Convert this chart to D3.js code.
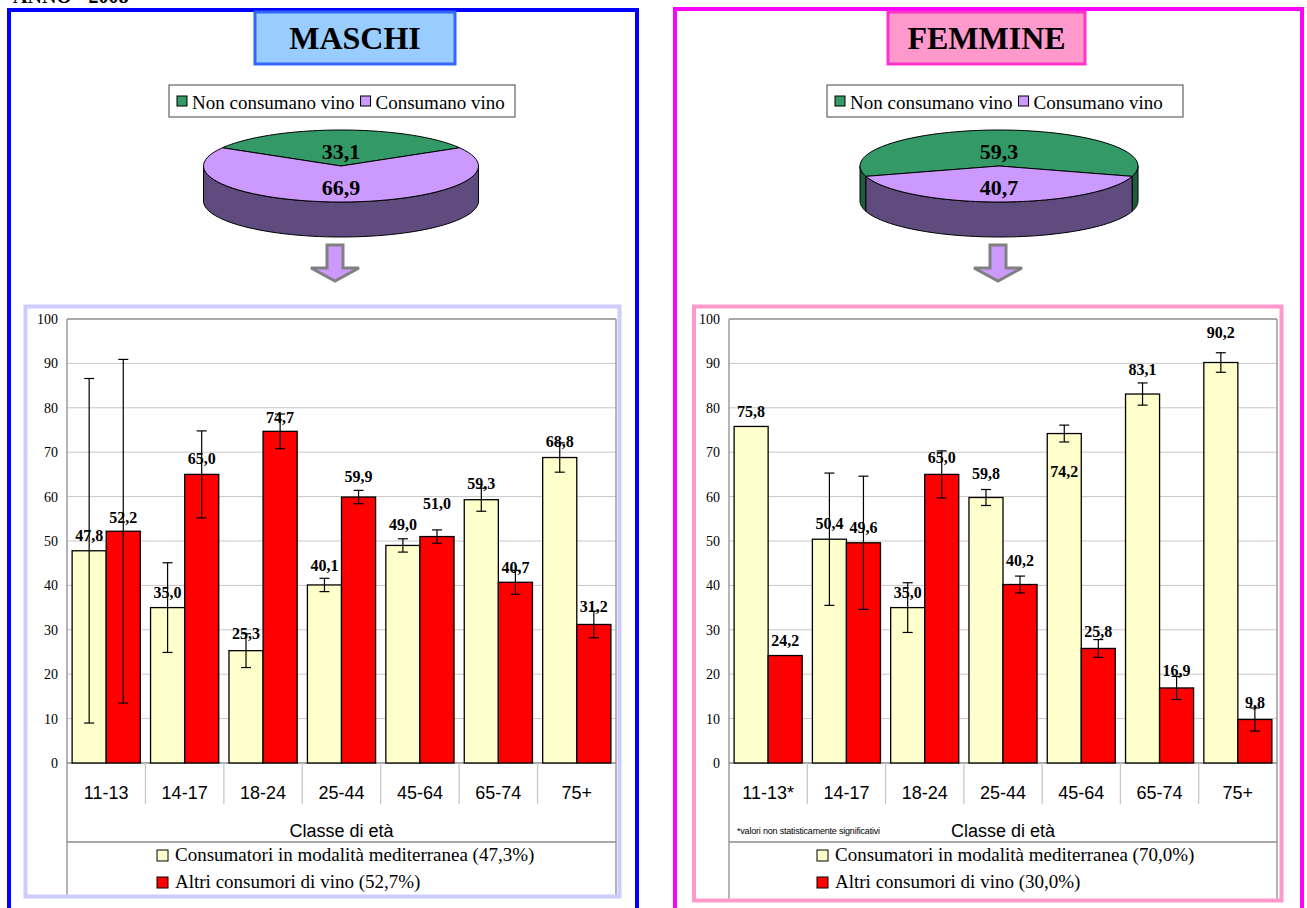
<!DOCTYPE html>
<html><head><meta charset="utf-8">
<script src="https://cdn.jsdelivr.net/npm/d3@7"></script>
<style>body{margin:0;background:#fff;} svg{display:block;}</style>
</head><body>
<svg id="c" width="1307" height="908"></svg>
<script>
// ---------- DATA ----------
const headerText = "ANNO - 2008";
const pieLabels = ["Non consumano vino", "Consumano vino"];
const pieM = [33.1, 66.9];
const pieF = [59.3, 40.7];

const categoriesM = ["11-13", "14-17", "18-24", "25-44", "45-64", "65-74", "75+"];
const categoriesF = ["11-13*", "14-17", "18-24", "25-44", "45-64", "65-74", "75+"];

const medM   = [47.8, 35.0, 25.3, 40.1, 49.0, 59.3, 68.8];
const altriM = [52.2, 65.0, 74.7, 59.9, 51.0, 40.7, 31.2];
const medErrM   = [38.8, 10.1, 3.8, 1.5, 1.5, 2.6, 3.3];
const altriErrM = [38.7, 9.8, 3.9, 1.5, 1.5, 2.7, 3.0];

const medF   = [75.8, 50.4, 35.0, 59.8, 74.2, 83.1, 90.2];
const altriF = [24.2, 49.6, 65.0, 40.2, 25.8, 16.9, 9.8];
const medErrF   = [null, 14.9, 5.6, 1.8, 1.9, 2.5, 2.2];
const altriErrF = [null, 15.0, 5.3, 1.9, 2.0, 2.6, 2.6];

const yTicks = [0, 10, 20, 30, 40, 50, 60, 70, 80, 90, 100];
const legendM = ["Consumatori in modalità mediterranea (47,3%)", "Altri consumori di vino (52,7%)"];
const legendF = ["Consumatori in modalità mediterranea (70,0%)", "Altri consumori di vino (30,0%)"];
const xTitle = "Classe di età";
const footnoteF = "*valori non statisticamente significativi";

// ---------- LAYOUT (label lifts above bar top, px) ----------
const liftMedM   = [15, 15, 17, 20, 21, 16, 16];
const liftAltriM = [14, 16, 14, 21, 33, 15, 18];
const liftMedF   = [15, 16, 15, 24, -38, 25, 30];
const liftAltriF = [15, 15, 17, 24, 17, 18, 17];

const SERIF = "'Liberation Serif','Times New Roman',serif";
const SANS = "'Liberation Sans',Arial,sans-serif";
const C_GREEN = "#339966", C_GREEN_SIDE = "#1E5C3B";
const C_PURPLE = "#CC99FF", C_PURPLE_SIDE = "#5F4B7E";
const C_YELLOW = "#FFFFCC", C_RED = "#FF0000";

const svg = d3.select("#c");
svg.append("rect").attr("width", 1307).attr("height", 908).attr("fill", "#fff");

svg.append("text").attr("x", 13).attr("y", 3)
  .attr("font-family", SERIF).attr("font-weight", "bold").attr("font-size", 20)
  .text(headerText);

function drawPanel(p) {
  const g = svg.append("g");
  g.append("rect").attr("x", p.frame[0]).attr("y", p.frame[1]).attr("width", p.frame[2]).attr("height", 1000)
    .attr("fill", "none").attr("stroke", p.frameColor).attr("stroke-width", 4);

  g.append("rect").attr("x", p.title[0]).attr("y", p.title[1]).attr("width", p.title[2]).attr("height", p.title[3])
    .attr("fill", p.titleFill).attr("stroke", p.titleStroke).attr("stroke-width", 3);
  g.append("text").attr("x", p.title[0] + p.title[2] / 2).attr("y", p.title[1] + p.title[3] / 2 + 11)
    .attr("text-anchor", "middle").attr("font-family", SERIF).attr("font-weight", "bold").attr("font-size", 32)
    .text(p.titleText);

  const lb = p.pieLegend;
  g.append("rect").attr("x", lb[0]).attr("y", lb[1]).attr("width", lb[2]).attr("height", lb[3])
    .attr("fill", "#fff").attr("stroke", "#444").attr("stroke-width", 1);
  let lx = lb[0] + 8;
  const lcols = [C_GREEN, C_PURPLE];
  pieLabels.forEach((t, i) => {
    g.append("rect").attr("x", lx).attr("y", lb[1] + 11).attr("width", 10).attr("height", 10)
      .attr("fill", lcols[i]).attr("stroke", "#000").attr("stroke-width", 1);
    const tx = g.append("text").attr("x", lx + 15).attr("y", lb[1] + 24)
      .attr("font-family", SERIF).attr("font-size", 19).text(t);
    lx += 15 + tx.node().getComputedTextLength() + 6;
  });

  const pc = p.pie;
  const frac0 = p.pieVals[0] / 100;
  const arcs = d3.pie().sort(null).startAngle(-Math.PI * frac0).endAngle(2 * Math.PI - Math.PI * frac0)(p.pieVals);
  const pt = (a, dy) => [pc.cx + pc.rx * Math.sin(a), pc.cy - pc.ry * Math.cos(a) + (dy || 0)];
  const samp = (a0, a1, dy) => { const n = 60, r = []; for (let k = 0; k <= n; k++) r.push(pt(a0 + (a1 - a0) * k / n, dy)); return r; };
  const sideCols = [C_GREEN_SIDE, C_PURPLE_SIDE], topCols = [C_GREEN, C_PURPLE];
  const line = d3.line();
  arcs.forEach((a, i) => {
    [[Math.PI / 2, 3 * Math.PI / 2], [-3 * Math.PI / 2, -Math.PI / 2]].forEach(([lo, hi]) => {
      const s = Math.max(a.startAngle, lo), e = Math.min(a.endAngle, hi);
      if (s < e) {
        const top = samp(s, e, 0), bot = samp(e, s, pc.depth);
        g.append("path").attr("d", line(top.concat(bot)) + "Z")
          .attr("fill", sideCols[i]).attr("stroke", "#000").attr("stroke-width", 1);
      }
    });
  });
  arcs.forEach((a, i) => {
    const pts = [[pc.cx, pc.cy]].concat(samp(a.startAngle, a.endAngle, 0));
    g.append("path").attr("d", line(pts) + "Z").attr("fill", topCols[i]).attr("stroke", "#000").attr("stroke-width", 1);
  });
  arcs.forEach((a, i) => {
    const m = (a.startAngle + a.endAngle) / 2;
    g.append("text").attr("x", pc.cx + pc.rx * 0.5 * Math.sin(m)).attr("y", pc.cy - pc.ry * 0.5 * Math.cos(m) + 3.5)
      .attr("dy", "0.35em").attr("text-anchor", "middle")
      .attr("font-family", SERIF).attr("font-weight", "bold").attr("font-size", 22)
      .text(d3.format(".1f")(a.data).replace(".", ","));
  });

  const ax = p.arrowX;
  const arrow = `M${ax - 8},245 L${ax + 8},245 L${ax + 8},268 L${ax + 24},268 L${ax},281 L${ax - 24},268 L${ax - 8},268 Z`;
  g.append("path").attr("d", arrow).attr("fill", C_PURPLE).attr("stroke", "#808080").attr("stroke-width", 3).attr("stroke-linejoin", "miter");

  const cb = p.chartBox;
  g.append("rect").attr("x", cb[0]).attr("y", cb[1]).attr("width", cb[2]).attr("height", cb[3])
    .attr("fill", "#fff").attr("stroke", p.chartBoxColor).attr("stroke-width", 4);

  const plotL = p.plotL, plotR = p.plotR, plotT = 319, plotB = 763, bottom = cb[1] + cb[3] - 2;
  const y = d3.scaleLinear().domain([0, 100]).range([plotB, plotT]);
  const x = d3.scaleBand().domain(p.cats).range([plotL, plotR]);
  const xs = d3.scaleBand().domain([0, 1]).range([0, x.bandwidth()]).paddingOuter(0.15);

  g.selectAll(null).data(yTicks.filter(t => t > 0 && t < 100)).enter().append("line")
    .attr("x1", plotL).attr("x2", plotR).attr("y1", d => y(d)).attr("y2", d => y(d))
    .attr("stroke", "#C8C8C8").attr("stroke-width", 1);
  const gl = (x1, y1, x2, y2) => g.append("line").attr("x1", x1).attr("y1", y1).attr("x2", x2).attr("y2", y2)
    .attr("stroke", "#8C8C8C").attr("stroke-width", 1.3);
  gl(plotL, plotT, plotR, plotT);
  gl(plotL, plotT, plotL, bottom);
  gl(plotR, plotT, plotR, bottom);
  gl(plotL, plotB, plotR, plotB);
  gl(plotL, 842, plotR, 842);
  p.cats.forEach((c, i) => { if (i > 0) { g.append("line").attr("x1", x(c)).attr("x2", x(c)).attr("y1", plotB).attr("y2", 804)
      .attr("stroke", "#C8C8C8").attr("stroke-width", 1.3); } });

  const yAxis = g.append("g").attr("transform", `translate(${plotL},0)`)
    .call(d3.axisLeft(y).tickValues(yTicks).tickSize(0).tickPadding(9));
  yAxis.select(".domain").remove();
  yAxis.selectAll("text").attr("font-family", SERIF).attr("font-size", 14).attr("fill", "#000");

  p.cats.forEach(c => {
    g.append("text").attr("x", x(c) + x.bandwidth() / 2).attr("y", 799).attr("text-anchor", "middle")
      .attr("font-family", SANS).attr("font-size", 18).text(c);
  });
  g.append("text").attr("x", (plotL + plotR) / 2).attr("y", 837).attr("text-anchor", "middle")
    .attr("font-family", SANS).attr("font-size", 18).text(xTitle);
  if (p.footnote) {
    g.append("text").attr("x", plotL + 8).attr("y", 834).attr("font-family", SANS).attr("font-size", 9)
      .attr("letter-spacing", "-0.2").text(p.footnote);
  }

  const series = [
    { v: p.med, e: p.medErr, lift: p.liftMed, fill: C_YELLOW, k: 0 },
    { v: p.altri, e: p.altriErr, lift: p.liftAltri, fill: C_RED, k: 1 }
  ];
  series.forEach(s => {
    s.v.forEach((v, i) => {
      g.append("rect").attr("x", x(p.cats[i]) + xs(s.k)).attr("y", y(v))
        .attr("width", xs.bandwidth()).attr("height", y(0) - y(v))
        .attr("fill", s.fill).attr("stroke", "#000").attr("stroke-width", 1.3);
    });
  });
  series.forEach(s => {
    s.v.forEach((v, i) => {
      g.append("text").attr("x", x(p.cats[i]) + xs(s.k) + xs.bandwidth() / 2).attr("y", y(v) - s.lift[i])
        .attr("dy", "0.35em").attr("text-anchor", "middle")
        .attr("font-family", SERIF).attr("font-weight", "bold").attr("font-size", 16)
        .text(d3.format(".1f")(v).replace(".", ","));
    });
  });
  series.forEach(s => {
    s.v.forEach((v, i) => {
      const e = s.e[i];
      if (e == null) return;
      const cx = x(p.cats[i]) + xs(s.k) + xs.bandwidth() / 2;
      const ys = [y(v + e), y(v - e)];
      g.append("line").attr("x1", cx).attr("x2", cx).attr("y1", ys[0]).attr("y2", ys[1]).attr("stroke", "#000").attr("stroke-width", 1.2);
      ys.forEach(yy => g.append("line").attr("x1", cx - 5).attr("x2", cx + 5).attr("y1", yy).attr("y2", yy).attr("stroke", "#000").attr("stroke-width", 1.2));
    });
  });

  const legCols = [C_YELLOW, C_RED];
  p.legend.forEach((t, i) => {
    const by = 861 + i * 27;
    g.append("rect").attr("x", p.legendX).attr("y", by - 11).attr("width", 11).attr("height", 11)
      .attr("fill", legCols[i]).attr("stroke", "#000").attr("stroke-width", 1);
    g.append("text").attr("x", p.legendX + 18).attr("y", by).attr("font-family", SERIF).attr("font-size", 19).text(t);
  });
}

drawPanel({
  frame: [9, 10, 628], frameColor: "#0000FF",
  title: [255, 12, 200, 52], titleFill: "#99CCFF", titleStroke: "#3366FF", titleText: "MASCHI",
  pieLegend: [169, 85, 346, 32], pieVals: pieM,
  pie: { cx: 341, cy: 166, rx: 137.5, ry: 36, depth: 35 },
  arrowX: 335,
  chartBox: [25.5, 306.5, 594, 590], chartBoxColor: "#CCCCFF",
  plotL: 67, plotR: 616, cats: categoriesM,
  med: medM, altri: altriM, medErr: medErrM, altriErr: altriErrM,
  liftMed: liftMedM, liftAltri: liftAltriM,
  legend: legendM, legendX: 157, footnote: null
});

drawPanel({
  frame: [675, 9, 627], frameColor: "#FF00FF",
  title: [888, 12, 197, 52], titleFill: "#FF99CC", titleStroke: "#FF33CC", titleText: "FEMMINE",
  pieLegend: [827, 85, 356, 32], pieVals: pieF,
  pie: { cx: 999, cy: 166, rx: 139, ry: 36, depth: 35 },
  arrowX: 998,
  chartBox: [694, 306.5, 587.5, 594], chartBoxColor: "#FF99CC",
  plotL: 729, plotR: 1277, cats: categoriesF,
  med: medF, altri: altriF, medErr: medErrF, altriErr: altriErrF,
  liftMed: liftMedF, liftAltri: liftAltriF,
  legend: legendF, legendX: 817, footnote: footnoteF
});
</script>
</body></html>
